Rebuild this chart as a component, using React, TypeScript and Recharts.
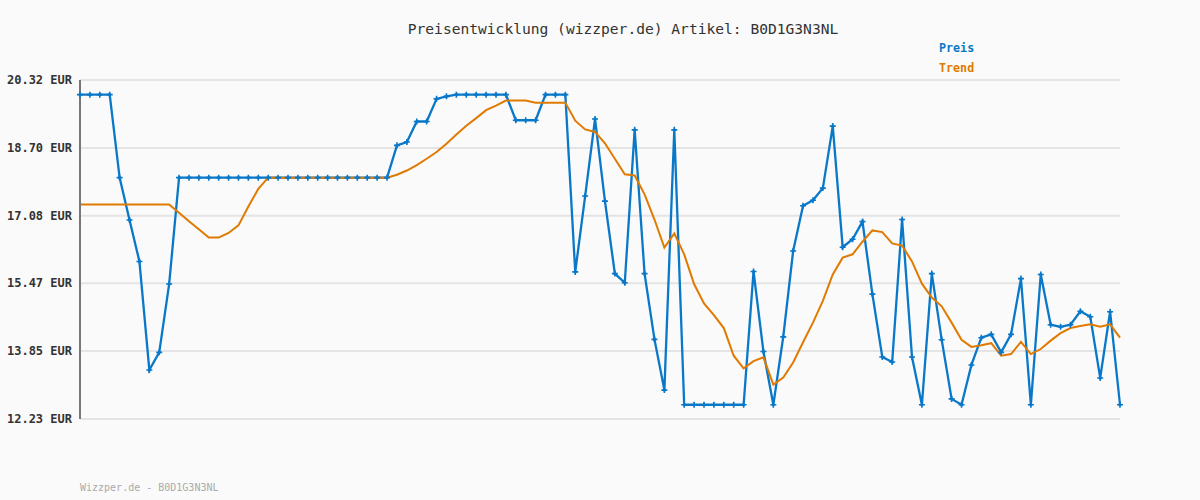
import { LineChart, Line, XAxis, YAxis, CartesianGrid } from "recharts";

const preis = [
    19.97, 19.97, 19.97, 19.97, 17.99, 16.98, 15.99, 13.4, 13.82, 15.45,
    17.99, 17.99, 17.99, 17.99, 17.99, 17.99, 17.99, 17.99, 17.99, 17.99,
    17.99, 17.99, 17.99, 17.99, 17.99, 17.99, 17.99, 17.99, 17.99, 17.99,
    17.99, 17.99, 18.76, 18.84, 19.33, 19.33, 19.87, 19.93, 19.97, 19.97,
    19.97, 19.97, 19.97, 19.97, 19.36, 19.36, 19.36, 19.97, 19.97, 19.97,
    15.74, 17.55, 19.39, 17.43, 15.7, 15.48, 19.13, 15.7, 14.13, 12.92,
    19.13, 12.57, 12.57, 12.57, 12.57, 12.57, 12.57, 12.57, 15.75, 13.84,
    12.57, 14.19, 16.24, 17.32, 17.45, 17.74, 19.22, 16.33, 16.52, 16.94,
    15.21, 13.71, 13.59, 16.99, 13.71, 12.57, 15.7, 14.12, 12.71, 12.57,
    13.52, 14.17, 14.25, 13.82, 14.25, 15.58, 12.57, 15.68, 14.48, 14.43,
    14.48, 14.8, 14.67, 13.21, 14.79, 12.57,
];

const trend = [
    17.35, 17.35, 17.35, 17.35, 17.35, 17.35, 17.35, 17.35, 17.35, 17.35,
    17.15, 16.95, 16.76, 16.56, 16.56, 16.67, 16.85, 17.3, 17.72, 17.99,
    17.99, 17.99, 17.99, 17.99, 17.99, 17.99, 17.99, 17.99, 17.99, 17.99,
    17.99, 17.99, 18.06, 18.16, 18.29, 18.44, 18.6, 18.8, 19.02, 19.23,
    19.41, 19.6, 19.71, 19.83, 19.83, 19.83, 19.78, 19.78, 19.78, 19.78,
    19.35, 19.14, 19.08, 18.81, 18.44, 18.07, 18.04, 17.59, 16.99, 16.32,
    16.66, 16.16, 15.45, 14.99, 14.71, 14.4, 13.74, 13.44, 13.61, 13.7,
    13.05, 13.22, 13.58, 14.06, 14.53, 15.05, 15.68, 16.08, 16.16, 16.46,
    16.73, 16.69, 16.42, 16.37, 15.99, 15.46, 15.13, 14.92, 14.53, 14.12,
    13.95, 13.99, 14.04, 13.74, 13.78, 14.07, 13.78, 13.9, 14.1, 14.28,
    14.4, 14.45, 14.49, 14.43, 14.49, 14.17,
];

const yTicks = [12.23, 13.85, 15.47, 17.08, 18.7, 20.32];

const data = preis.map((p, i) => ({ i, preis: p, trend: trend[i] }));

const BLUE = "#0a78c8";
const ORANGE = "#e07a00";
const MONO = "'DejaVu Sans Mono', 'Liberation Mono', monospace";

function Cross(props: any) {
    const { cx, cy } = props;
    if (cx == null || cy == null) return null;
    return (
        <g>
            <path d={`M${cx - 3},${cy} h6 M${cx},${cy - 3} v6`} stroke={BLUE} strokeWidth={1.6} />
            <circle cx={cx} cy={cy} r={1.6} fill={BLUE} />
        </g>
    );
}

export default function App() {
    return (
        <div style={{ position: "relative", width: 1200, height: 500, background: "#fafafa", fontFamily: MONO }}>
            <style>{`body{margin:0}`}</style>
            <div style={{ position: "absolute", left: 0, width: 1246, top: 20, textAlign: "center", fontSize: 14.6, color: "#333" }}>
                Preisentwicklung (wizzper.de) Artikel: B0D1G3N3NL
            </div>
            <div style={{ position: "absolute", left: 939, top: 41, fontSize: 11.7, fontWeight: "bold", color: BLUE }}>Preis</div>
            <div style={{ position: "absolute", left: 939, top: 61, fontSize: 11.7, fontWeight: "bold", color: ORANGE }}>Trend</div>
            <div style={{ position: "absolute", left: 80, top: 482, fontSize: 10, color: "#aaa" }}>Wizzper.de - B0D1G3N3NL</div>
            <LineChart width={1200} height={500} data={data} margin={{ top: 80, right: 80, bottom: 81, left: 0 }}>
                <CartesianGrid vertical={false} stroke="#e4e4e4" strokeWidth={2} />
                <XAxis
                    dataKey="i"
                    type="number"
                    domain={[0, 105]}
                    tick={false}
                    tickLine={false}
                    height={0}
                    axisLine={{ stroke: "#777", strokeWidth: 2 }}
                />
                <YAxis
                    width={80}
                    type="number"
                    domain={[12.23, 20.32]}
                    ticks={yTicks}
                    interval={0}
                    tickLine={false}
                    tickSize={0}
                    tickMargin={8}
                    axisLine={{ stroke: "#777", strokeWidth: 2 }}
                    tickFormatter={(v: number) => `${v.toFixed(2)} EUR`}
                    tick={{ fill: "#333", fontSize: 12, fontWeight: "bold", fontFamily: MONO }}
                />
                <Line type="linear" dataKey="preis" stroke={BLUE} strokeWidth={2.3} dot={false} isAnimationActive={false} />
                <Line type="linear" dataKey="trend" stroke={ORANGE} strokeWidth={2} dot={false} isAnimationActive={false} />
                <Line type="linear" dataKey="preis" stroke="none" dot={<Cross />} activeDot={false} isAnimationActive={false} />
            </LineChart>
        </div>
    );
}
